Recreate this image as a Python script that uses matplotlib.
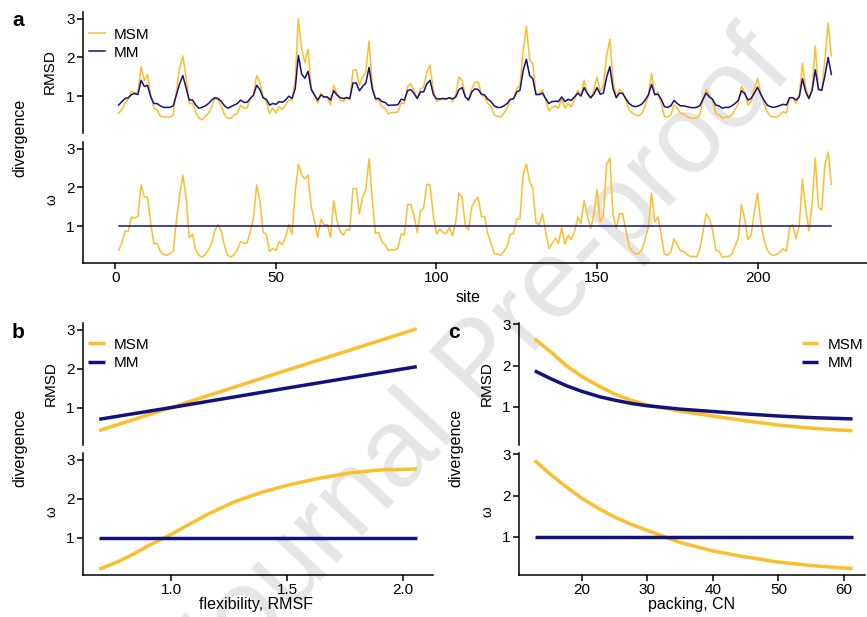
import numpy as np
import matplotlib
matplotlib.use('Agg')
import matplotlib.pyplot as plt

plt.rcParams['font.family'] = ['Liberation Sans', 'DejaVu Sans']
plt.rcParams['font.size'] = 11

MSM_COL = '#FDBE2C'
MM_COL = '#12127E'

# ---- panel a: per-site values ----
site = np.arange(1, 224)
rmsd_msm = [
    0.56, 0.65, 0.81, 0.92, 1.13, 1.08, 1.10, 1.76, 1.40, 1.56,
    1.03, 0.69, 0.65, 0.48, 0.46, 0.46, 0.46, 0.52, 1.15, 1.74,
    2.04, 1.49, 0.81, 0.81, 0.60, 0.43, 0.39, 0.48, 0.56, 0.73,
    0.94, 0.90, 0.73, 0.52, 0.43, 0.43, 0.52, 0.56, 0.77, 0.69,
    0.69, 0.94, 1.03, 1.53, 1.36, 0.98, 0.86, 0.56, 0.69, 0.56,
    0.73, 0.66, 0.77, 0.90, 0.90, 1.41, 3.00, 2.21, 1.87, 2.21,
    1.19, 1.07, 0.81, 1.08, 0.96, 0.98, 0.77, 1.28, 1.07, 0.90,
    0.86, 0.98, 0.90, 1.66, 1.68, 1.28, 1.49, 1.62, 2.42, 1.32,
    0.90, 0.90, 0.73, 0.69, 0.54, 0.58, 0.58, 0.59, 0.83, 0.81,
    1.25, 1.32, 1.14, 0.94, 1.19, 1.23, 1.62, 1.80, 1.15, 0.86,
    0.90, 0.92, 0.92, 0.96, 0.86, 1.03, 1.49, 1.41, 0.98, 0.90,
    1.19, 1.36, 1.36, 1.07, 0.98, 0.81, 0.73, 0.52, 0.48, 0.46,
    0.56, 0.69, 0.90, 0.94, 1.19, 1.28, 2.16, 2.80, 1.95, 1.83,
    1.07, 1.07, 1.17, 0.90, 0.62, 0.71, 0.75, 0.69, 0.94, 0.69,
    0.81, 0.73, 0.90, 1.15, 1.03, 1.41, 1.07, 0.94, 1.15, 1.49,
    1.11, 1.28, 2.03, 2.46, 1.41, 0.98, 1.17, 1.11, 0.90, 0.65,
    0.56, 0.52, 0.49, 0.56, 0.75, 1.02, 1.59, 1.03, 1.11, 0.81,
    0.48, 0.46, 0.52, 0.77, 0.69, 0.56, 0.54, 0.48, 0.43, 0.43,
    0.43, 0.52, 0.90, 1.17, 1.03, 0.90, 0.56, 0.52, 0.43, 0.46,
    0.46, 0.52, 0.65, 0.81, 1.25, 1.11, 0.77, 0.86, 1.19, 1.45,
    1.11, 0.81, 0.60, 0.49, 0.46, 0.46, 0.52, 0.60, 0.56, 0.96,
    0.96, 0.81, 1.03, 1.84, 1.23, 0.94, 1.19, 2.29, 1.19, 1.15,
    1.95, 2.88, 2.04,
]
rmsd_mm = [
    0.77, 0.86, 0.94, 0.96, 1.04, 1.07, 1.04, 1.41, 1.25, 1.28,
    0.98, 0.81, 0.81, 0.75, 0.71, 0.71, 0.71, 0.75, 1.03, 1.32,
    1.53, 1.22, 0.90, 0.90, 0.77, 0.69, 0.71, 0.75, 0.81, 0.90,
    0.96, 0.94, 0.86, 0.75, 0.69, 0.73, 0.77, 0.81, 0.90, 0.84,
    0.84, 0.94, 1.03, 1.28, 1.17, 0.96, 0.92, 0.77, 0.81, 0.79,
    0.86, 0.84, 0.90, 1.00, 0.94, 1.19, 2.05, 1.57, 1.46, 1.64,
    1.17, 1.03, 0.90, 1.03, 0.98, 0.98, 0.90, 1.14, 1.03, 0.96,
    0.94, 0.96, 0.94, 1.34, 1.34, 1.14, 1.25, 1.34, 1.74, 1.19,
    0.94, 0.94, 0.86, 0.84, 0.76, 0.77, 0.77, 0.78, 0.92, 0.90,
    1.14, 1.17, 1.07, 0.94, 1.11, 1.11, 1.32, 1.41, 1.05, 0.93,
    0.93, 0.94, 0.93, 0.96, 0.93, 0.98, 1.17, 1.22, 0.98, 0.90,
    1.11, 1.19, 1.17, 1.05, 1.03, 0.92, 0.86, 0.75, 0.71, 0.71,
    0.75, 0.81, 0.92, 0.93, 1.11, 1.15, 1.66, 1.95, 1.53, 1.45,
    1.04, 1.04, 1.08, 0.94, 0.81, 0.86, 0.87, 0.86, 0.98, 0.86,
    0.92, 0.89, 0.98, 1.08, 1.00, 1.22, 1.07, 0.96, 1.05, 1.22,
    1.05, 1.08, 1.49, 1.76, 1.19, 0.96, 1.08, 1.07, 0.93, 0.81,
    0.75, 0.73, 0.75, 0.80, 0.90, 1.03, 1.30, 1.04, 1.05, 0.92,
    0.73, 0.71, 0.75, 0.89, 0.81, 0.75, 0.75, 0.73, 0.71, 0.70,
    0.71, 0.75, 0.92, 1.08, 0.98, 0.92, 0.77, 0.75, 0.69, 0.71,
    0.71, 0.75, 0.81, 0.89, 1.14, 1.07, 0.90, 0.94, 1.08, 1.23,
    1.05, 0.90, 0.77, 0.73, 0.71, 0.73, 0.76, 0.79, 0.77, 0.96,
    0.96, 0.90, 0.98, 1.45, 1.11, 0.94, 1.15, 1.68, 1.17, 1.15,
    1.53, 2.00, 1.56,
]
omega_msm = [
    0.38, 0.56, 0.88, 0.86, 1.24, 1.21, 1.26, 2.06, 1.76, 1.74,
    1.07, 0.54, 0.56, 0.35, 0.27, 0.25, 0.29, 0.35, 1.15, 1.78,
    2.32, 1.74, 0.70, 0.79, 0.39, 0.25, 0.20, 0.27, 0.39, 0.56,
    0.90, 1.04, 0.86, 0.48, 0.25, 0.20, 0.27, 0.39, 0.60, 0.56,
    0.56, 0.86, 1.19, 2.06, 1.66, 0.84, 0.80, 0.35, 0.43, 0.37,
    0.60, 0.52, 0.71, 1.04, 0.79, 1.87, 2.60, 2.33, 2.22, 2.31,
    1.49, 1.13, 0.71, 1.18, 1.03, 1.04, 0.71, 1.65, 1.15, 0.86,
    0.77, 0.92, 0.90, 1.97, 1.97, 1.32, 1.74, 1.95, 2.74, 1.70,
    0.81, 0.84, 0.60, 0.52, 0.37, 0.39, 0.39, 0.43, 0.80, 0.77,
    1.56, 1.56, 1.28, 0.84, 1.39, 1.47, 2.08, 2.06, 1.28, 0.80,
    0.92, 0.84, 0.80, 0.97, 0.75, 1.11, 1.85, 1.74, 1.01, 0.90,
    1.49, 1.66, 1.74, 1.25, 1.24, 0.80, 0.56, 0.29, 0.28, 0.25,
    0.35, 0.48, 0.79, 0.81, 1.19, 1.19, 2.33, 2.60, 2.16, 1.97,
    1.09, 1.04, 1.32, 0.86, 0.43, 0.54, 0.69, 0.56, 0.96, 0.54,
    0.77, 0.65, 0.86, 1.24, 1.07, 1.66, 1.28, 0.94, 1.28, 1.95,
    1.11, 1.28, 2.59, 2.76, 1.28, 0.94, 1.32, 1.32, 0.90, 0.48,
    0.35, 0.29, 0.29, 0.39, 0.67, 0.98, 1.85, 1.11, 1.24, 0.77,
    0.28, 0.25, 0.33, 0.67, 0.52, 0.37, 0.35, 0.27, 0.22, 0.22,
    0.21, 0.39, 0.86, 1.32, 1.19, 0.90, 0.39, 0.35, 0.20, 0.22,
    0.22, 0.28, 0.48, 0.69, 1.56, 1.19, 0.65, 0.77, 1.36, 1.84,
    1.11, 0.65, 0.39, 0.28, 0.24, 0.27, 0.33, 0.42, 0.35, 0.96,
    1.04, 0.67, 1.03, 2.21, 1.45, 0.88, 1.57, 2.76, 1.49, 1.41,
    2.59, 2.91, 2.08,
]
omega_mm = [1.0] * len(site)

# ---- panel b: fits against flexibility ----
flex = [0.69, 1.0, 1.5, 2.06]
flex_rmsd_msm = [0.41, 1.0, 1.96, 3.02]
flex_rmsd_mm = [0.70, 1.0, 1.50, 2.05]
flex_w = [0.69, 0.767, 0.839, 0.911, 1.0, 1.069, 1.155, 1.27, 1.385,
          1.5, 1.629, 1.773, 1.916, 2.06]
flex_w_msm = [0.19, 0.37, 0.58, 0.82, 1.08, 1.31, 1.59, 1.91, 2.15,
              2.34, 2.51, 2.66, 2.74, 2.76]
flex_w_mm = [1.0] * len(flex_w)

# ---- panel c: fits against packing ----
cn = [12.8, 15.1, 17.6, 20, 22.7, 25.2, 27.8, 30, 34.9, 40, 45.1, 50, 55.3, 61.3]
cn_rmsd_msm = [2.65, 2.35, 2.00, 1.73, 1.49, 1.29, 1.14, 1.04, 0.89, 0.77,
               0.65, 0.55, 0.47, 0.41]
cn_rmsd_mm = [1.87, 1.69, 1.51, 1.37, 1.24, 1.15, 1.07, 1.02, 0.94, 0.88,
              0.82, 0.77, 0.73, 0.70]
cn_w_msm = [2.85, 2.53, 2.21, 1.93, 1.67, 1.46, 1.28, 1.15, 0.86, 0.65,
            0.50, 0.38, 0.29, 0.22]
cn_w_mm = [1.0] * len(cn)

W, H = 867, 617
fig = plt.figure(figsize=(W / 100, H / 100), dpi=100)


def add_ax(x0, y0, x1, y1):
    # pixel box (left, top, right, bottom) -> figure axes
    return fig.add_axes([x0 / W, 1 - y1 / H, (x1 - x0) / W, (y1 - y0) / H])


def style(ax, xaxis):
    ax.set_facecolor('none')
    for s in ['top', 'right']:
        ax.spines[s].set_visible(False)
    for s in ['left', 'bottom']:
        ax.spines[s].set_linewidth(1.1)
    ax.set_yticks([1, 2, 3])
    ax.tick_params(length=4, width=1.1, labelsize=11, colors='black', pad=2)
    if not xaxis:
        ax.spines['bottom'].set_visible(False)
        ax.tick_params(axis='x', bottom=False, labelbottom=False)


def ftext(x, y, s, **kw):
    fig.text(x / W, 1 - y / H, s, **kw)


# watermark
ftext(482, 366, 'Journal Pre-proof', fontsize=80, color='#e6e6e6',
      rotation=47, ha='center', va='center', rotation_mode='anchor', zorder=-5)

leg_kw = dict(frameon=False, handletextpad=0.6, borderpad=0, borderaxespad=0, fontsize=11)

# panel a
a1 = add_ax(83, 12, W, 133)
a2 = add_ax(83, 142, W, 263)
a1.plot(site, rmsd_msm, color=MSM_COL, lw=1.1, label='MSM')
a1.plot(site, rmsd_mm, color=MM_COL, lw=1.1, label='MM')
a2.plot(site, omega_msm, color=MSM_COL, lw=1.1)
a2.plot(site, omega_mm, color=MM_COL, lw=1.1)
for ax in (a1, a2):
    ax.set_xlim(-10.1, 234.1)
    ax.set_ylim(0.05, 3.17)
style(a1, False)
style(a2, True)
a2.set_xticks([0, 50, 100, 150, 200])
a1.legend(loc='upper left', bbox_to_anchor=(0.008, 0.87),
          handlelength=1.0, labelspacing=0.25, **leg_kw)

# panel b
b1 = add_ax(83, 323, 433, 445)
b2 = add_ax(83, 453, 433, 575)
b1.plot(flex, flex_rmsd_msm, color=MSM_COL, lw=2.5, label='MSM', solid_capstyle='butt')
b1.plot(flex, flex_rmsd_mm, color=MM_COL, lw=2.5, label='MM', solid_capstyle='butt')
b2.plot(flex_w, flex_w_msm, color=MSM_COL, lw=2.5, solid_capstyle='butt')
b2.plot(flex_w, flex_w_mm, color=MM_COL, lw=2.5, solid_capstyle='butt')
for ax in (b1, b2):
    ax.set_xlim(0.62, 2.13)
    ax.set_ylim(0.04, 3.17)
style(b1, False)
style(b2, True)
b2.set_xticks([1.0, 1.5, 2.0])
b2.set_xticklabels(['1.0', '1.5', '2.0'])
b1.legend(loc='upper left', bbox_to_anchor=(0.015, 0.88),
          handlelength=1.1, labelspacing=0.3, **leg_kw)

# panel c
c1 = add_ax(519, 323, 865, 445)
c2 = add_ax(519, 453, 865, 575)
c1.plot(cn, cn_rmsd_msm, color=MSM_COL, lw=2.5, label='MSM', solid_capstyle='butt')
c1.plot(cn, cn_rmsd_mm, color=MM_COL, lw=2.5, label='MM', solid_capstyle='butt')
c2.plot(cn, cn_w_msm, color=MSM_COL, lw=2.5, solid_capstyle='butt')
c2.plot(cn, cn_w_mm, color=MM_COL, lw=2.5, solid_capstyle='butt')
for ax in (c1, c2):
    ax.set_xlim(10.4, 63.2)
    ax.set_ylim(0.065, 3.035)
style(c1, False)
style(c2, True)
c2.set_xticks([20, 30, 40, 50, 60])
c1.legend(loc='upper right', bbox_to_anchor=(0.995, 0.88),
          handlelength=1.1, labelspacing=0.3, **leg_kw)

# labels
ftext(18, 20, 'a', fontsize=15, fontweight='bold', ha='center', va='center')
ftext(18, 333, 'b', fontsize=15, fontweight='bold', ha='center', va='center')
ftext(454, 333, 'c', fontsize=15, fontweight='bold', ha='center', va='center')

ftext(20, 138, 'divergence', rotation=90, ha='center', va='center', fontsize=11.5)
ftext(20, 448, 'divergence', rotation=90, ha='center', va='center', fontsize=11.5)
ftext(456, 448, 'divergence', rotation=90, ha='center', va='center', fontsize=11.5)

ftext(50, 72, 'RMSD', rotation=90, ha='center', va='center', fontsize=11)
ftext(52, 200, 'ω', rotation=90, ha='center', va='center', fontsize=10)
ftext(51, 384, 'RMSD', rotation=90, ha='center', va='center', fontsize=11)
ftext(51, 512, 'ω', rotation=90, ha='center', va='center', fontsize=10)
ftext(487, 384, 'RMSD', rotation=90, ha='center', va='center', fontsize=11)
ftext(487, 512, 'ω', rotation=90, ha='center', va='center', fontsize=10)

ftext(468, 297, 'site', ha='center', va='center', fontsize=11.5)
ftext(256, 605, 'flexibility, RMSF', ha='center', va='center', fontsize=11.5)
ftext(692, 605, 'packing, CN', ha='center', va='center', fontsize=11.5)

fig.savefig('out.png', dpi=100)
